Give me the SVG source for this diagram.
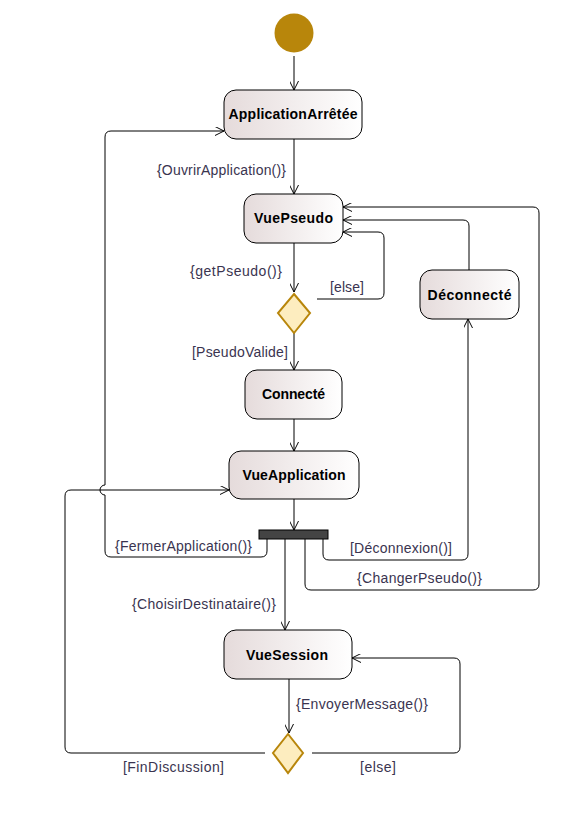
<svg xmlns="http://www.w3.org/2000/svg" width="575" height="817" viewBox="0 0 575 817">
  <defs>
    <linearGradient id="stateFill" x1="0" y1="0" x2="1" y2="0">
      <stop offset="0" stop-color="#e5dbdb"/>
      <stop offset="1" stop-color="#ffffff"/>
    </linearGradient>
    <marker id="open" viewBox="0 0 10 10" refX="10" refY="5" markerWidth="9" markerHeight="9" markerUnits="userSpaceOnUse" orient="auto">
      <path d="M0,0 L10,5 L0,10" fill="none" stroke="#000" stroke-width="1.1"/>
    </marker>
    <style>
      .state { fill: url(#stateFill); stroke: #000; stroke-width: 1; }
      .name { font-family: "Liberation Sans", Arial, sans-serif; font-size: 14px; font-weight: bold; fill: #000; text-anchor: middle; }
      .label { font-family: "Liberation Sans", Arial, sans-serif; font-size: 14px; fill: #3a3450; }
      .edge { fill: none; stroke: #000; stroke-width: 1; marker-end: url(#open); }
      .choice { fill: #fdedbf; stroke: #b8860b; stroke-width: 2; }
    </style>
  </defs>

  <!-- connectors -->
  <g id="connectors">
    <path class="edge" d="M294,56 V90"/>
    <path class="edge" d="M294,139 V194"/>
    <path class="edge" d="M294,243 V292"/>
    <path class="edge" d="M317,299 H378 Q384,299 384,293 V238 Q384,232 378,232 H343"/>
    <path class="edge" d="M294,333 V370"/>
    <path class="edge" d="M294,419 V451"/>
    <path class="edge" d="M294,499 V530"/>
    <!-- FermerApplication, with a jump over the FinDiscussion line -->
    <path class="edge" d="M267,539 V551 Q267,557 261,557 H111 Q105,557 105,551 V495 A5,5 0 0 1 105,485 V137 Q105,131 111,131 H224"/>
    <path class="edge" d="M323,539 V554 Q323,560 329,560 H462 Q468,560 468,554 V319"/>
    <path class="edge" d="M469,270 V226 Q469,220 463,220 H343"/>
    <path class="edge" d="M305,539 V584 Q305,590 311,590 H533 Q539,590 539,584 V213 Q539,207 533,207 H343"/>
    <path class="edge" d="M285,539 V630"/>
    <path class="edge" d="M289,679 V733"/>
    <path class="edge" d="M265,753 H71 Q65,753 65,747 V496 Q65,490 71,490 H229"/>
    <path class="edge" d="M312,753 H454 Q460,753 460,747 V664 Q460,658 454,658 H352"/>

    <text class="label" x="157" y="175" textLength="129">{OuvrirApplication()}</text>
    <text class="label" x="190" y="276" textLength="92">{getPseudo()}</text>
    <text class="label" x="330" y="292" textLength="34">[else]</text>
    <text class="label" x="192" y="357" textLength="96">[PseudoValide]</text>
    <text class="label" x="115" y="551" textLength="137">{FermerApplication()}</text>
    <text class="label" x="350" y="553" textLength="102">[Déconnexion()]</text>
    <text class="label" x="357" y="583" textLength="125">{ChangerPseudo()}</text>
    <text class="label" x="132" y="609" textLength="144">{ChoisirDestinataire()}</text>
    <text class="label" x="296" y="709" textLength="132">{EnvoyerMessage()}</text>
    <text class="label" x="123" y="772" textLength="101">[FinDiscussion]</text>
    <text class="label" x="360" y="772" textLength="36">[else]</text>
  </g>

  <g id="start">
    <circle cx="294" cy="33" r="19.5" fill="#b8860b"/>
  </g>

  <g id="ApplicationArretee">
    <rect class="state" x="224" y="90" width="138" height="49" rx="12"/>
    <text class="name" x="293" y="119" textLength="129">ApplicationArrêtée</text>
  </g>

  <g id="VuePseudo">
    <rect class="state" x="244" y="194" width="99" height="49" rx="12"/>
    <text class="name" x="293.5" y="223" textLength="79">VuePseudo</text>
  </g>

  <g id="choicePseudo">
    <polygon class="choice" points="294,294 310,313 294,333 278,313"/>
  </g>

  <g id="Deconnecte">
    <rect class="state" x="420" y="270" width="99" height="49" rx="12"/>
    <text class="name" x="469.5" y="300" textLength="84">Déconnecté</text>
  </g>

  <g id="Connecte">
    <rect class="state" x="245" y="370" width="97" height="49" rx="12"/>
    <text class="name" x="293.5" y="399" textLength="63">Connecté</text>
  </g>

  <g id="VueApplication">
    <rect class="state" x="229" y="451" width="130" height="48" rx="12"/>
    <text class="name" x="294" y="480" textLength="103">VueApplication</text>
  </g>

  <g id="fork">
    <rect x="259" y="530" width="69" height="9" fill="#444444" stroke="#000" stroke-width="1"/>
  </g>

  <g id="VueSession">
    <rect class="state" x="224" y="630" width="128" height="49" rx="12"/>
    <text class="name" x="287" y="660" textLength="82">VueSession</text>
  </g>

  <g id="choiceSession">
    <polygon class="choice" points="288,734 303,753 288,773 273,753"/>
  </g>
</svg>
